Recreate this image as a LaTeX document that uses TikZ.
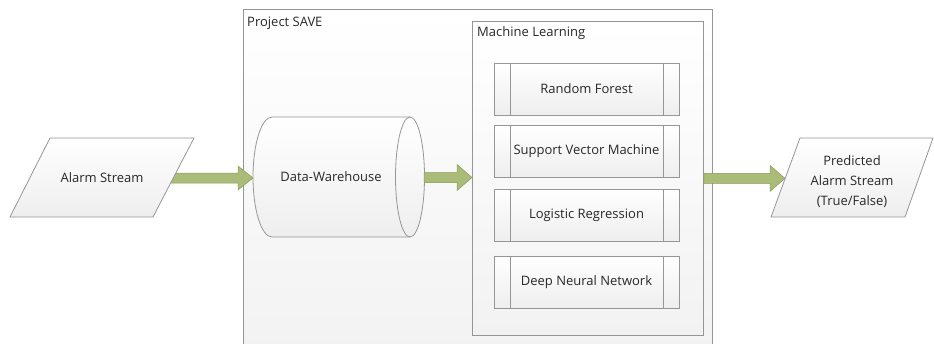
\documentclass[tikz,border=0pt]{standalone}
\usepackage{fontspec}
\setmainfont{Open Sans}
\usetikzlibrary{calc}
\definecolor{edge}{RGB}{150,150,150}
\definecolor{txt}{RGB}{40,40,40}
\definecolor{arrowfill}{RGB}{170,188,120}
\definecolor{arrowedge}{RGB}{135,155,90}
\definecolor{shadebot}{RGB}{238,238,238}
\definecolor{contbot}{RGB}{242,242,242}
\newcommand\fatarr[4]{%
  \path[fatarrow] let \p1=(#1), \p2=(#2) in
    (\x1,\y1-#3) -- (\x2-15pt,\y1-#3) -- (\x2-15pt,\y1-#4) -- (\x2,\y1)
    -- (\x2-15pt,\y1+#4) -- (\x2-15pt,\y1+#3) -- (\x1,\y1+#3) -- cycle;}
\begin{document}
\begin{tikzpicture}[x=1pt,y=-1pt,
  font=\fontsize{13}{20}\selectfont, text=txt,
  shapeline/.style={draw=edge, line width=0.8pt, top color=white, bottom color=shadebot},
  container/.style={draw=edge, line width=0.8pt, top color=white, bottom color=contbot,
    rectangle, inner sep=0pt, anchor=north west},
  algobox/.style={draw=edge, line width=0.8pt, top color=white, bottom color=shadebot,
    rectangle, minimum width=185pt, minimum height=52pt, inner sep=0pt,
    path picture={
      \draw[edge, line width=0.8pt]
        ([xshift=16pt]path picture bounding box.north west) -- ([xshift=16pt]path picture bounding box.south west)
        ([xshift=-16pt]path picture bounding box.north east) -- ([xshift=-16pt]path picture bounding box.south east);}},
  fatarrow/.style={draw=arrowedge, fill=arrowfill, line width=0.5pt},
  boxlabel/.style={inner sep=0pt, anchor=west}]
\useasboundingbox (0,0) rectangle (934,343);
\fill[white] (0,0) rectangle (934,343);

% containers
\node[container, minimum width=469pt, minimum height=345pt] (save) at (243,9) {};
\node[boxlabel] (savelab) at (247,23) {Project SAVE};
\node[container, minimum width=231pt, minimum height=314pt] (ml) at (472,21) {};
\node[boxlabel] (mllab) at (477,33) {Machine Learning};

% algorithms
\node[algobox] (rf)  at (586.5,89)  {Random Forest};
\node[algobox] (svm) at (586.5,151.5) {Support Vector Machine};
\node[algobox] (lr)  at (586.5,215) {Logistic Regression};
\node[algobox] (dnn) at (586.5,282) {Deep Neural Network};

% data warehouse cylinder
\draw[shapeline] (272,117) -- (410,117)
  .. controls (418,117) and (424.5,143.9) .. (424.5,177)
  .. controls (424.5,210.1) and (418,237) .. (410,237)
  -- (272,237)
  .. controls (261.5,237) and (253,210.1) .. (253,177)
  .. controls (253,143.9) and (261.5,117) .. (272,117) -- cycle;
\draw[edge, line width=0.8pt] (410,117)
  .. controls (402,117) and (395.5,143.9) .. (395.5,177)
  .. controls (395.5,210.1) and (402,237) .. (410,237);
\node (dw) at (331,177) {Data-Warehouse};
\coordinate (dwin) at (253,177.5);
\coordinate (dwout) at (424,177.5);

% arrows
\coordinate (alarmout) at (165,178);
\coordinate (predin) at (785,178);
\fatarr{alarmout}{dwin}{5pt}{12pt}
\fatarr{dwout}{ml.west}{5pt}{13pt}
\fatarr{ml.east}{predin}{5pt}{13pt}

% input / output streams
\draw[shapeline] (50,138) -- (194,138) -- (153,217) -- (10,217) -- cycle;
\node (alarm) at (102,178) {Alarm Stream};
\draw[shapeline] (800,138) -- (933,138) -- (905,217) -- (771,217) -- cycle;
\node[align=center] (pred) at (852,182) {Predicted\\Alarm Stream\\(True/False)};
\end{tikzpicture}
\end{document}
